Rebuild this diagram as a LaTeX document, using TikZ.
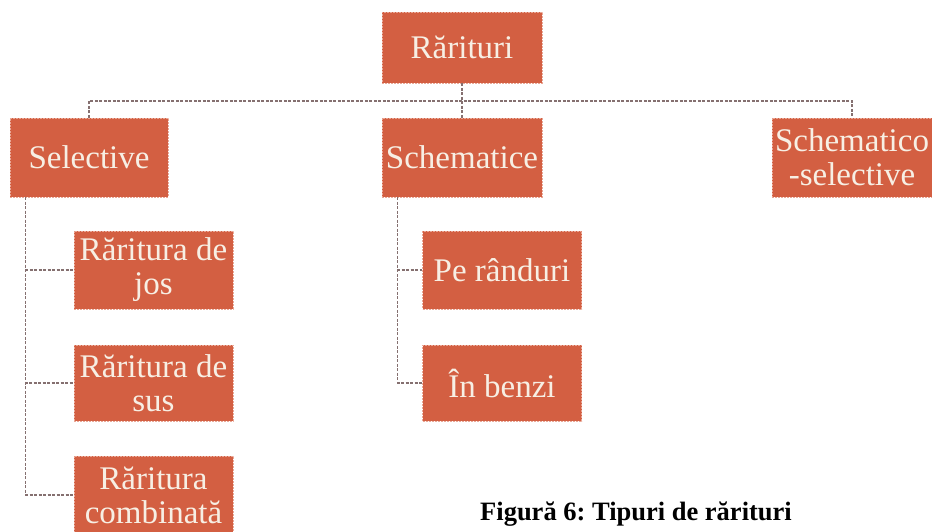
\documentclass[tikz,border=0pt]{standalone}
\usepackage{fontspec}
\setmainfont{Liberation Serif}
\frenchspacing
\definecolor{boxfill}{HTML}{D35F42}
\definecolor{boxedge}{HTML}{E9A897}
\definecolor{boxtext}{HTML}{F7EFE4}
\definecolor{linkcol}{HTML}{857070}
\tikzset{
  box/.style={rectangle, fill=boxfill, draw=boxedge, line width=0.8pt,
    dash pattern=on 2pt off 1pt, text=boxtext, inner sep=0pt, align=center,
    font=\fontsize{33}{34}\selectfont},
  link/.style={draw=linkcol, line width=1.6pt, dash pattern=on 3pt off 1.5pt},
  caption/.style={font=\fontsize{26.5}{30}\selectfont\bfseries, text=black, inner sep=0pt}
}
\begin{document}
\begin{tikzpicture}[x=1pt,y=-1pt]
\useasboundingbox (0,0) rectangle (932,531);
\clip (0,0) rectangle (932,531);
\fill[white] (0,0) rectangle (932,531);
% nodes
\node[box, minimum width=160pt, minimum height=71pt] (root) at (462,47.5) {Rărituri};
\node[box, minimum width=158pt, minimum height=79pt] (sel) at (89,157.5) {Selective};
\node[box, minimum width=160pt, minimum height=79pt] (sch) at (462,157.5) {Schematice};
\node[box, minimum width=160pt, minimum height=79pt] (schsel) at (852,157.5) {Schematico\\-selective};
\node[box, minimum width=159pt, minimum height=78pt] (rj) at (153.5,270) {Răritura de\\jos};
\node[box, minimum width=159pt, minimum height=76pt] (rs) at (153.5,383) {Răritura de\\sus};
\node[box, minimum width=159pt, minimum height=78pt] (rc) at (153.5,495) {Răritura\\combinată};
\node[box, minimum width=159pt, minimum height=78pt] (pr) at (502,270) {Pe rânduri};
\node[box, minimum width=159pt, minimum height=76pt] (ib) at (502,383) {În benzi};
% connectors
\coordinate (hb) at (0,101);
\draw[link] (root.south) -- (sch.north);
\draw[link] (sel.north) -- (sel.north |- hb) -| (schsel.north);
\coordinate (sv) at ([xshift=16pt]sel.south west);
\coordinate (cv) at ([xshift=16pt]sch.south west);
\draw[link] (sv) |- (rj.west);
\draw[link] (sv) |- (rs.west);
\draw[link] (sv) |- (rc.west);
\draw[link] (cv) |- (pr.west);
\draw[link] (cv) |- (ib.west);
% caption
\node[caption, anchor=base west] (cap) at (480,520) {Figură 6: Tipuri de rărituri};
\end{tikzpicture}
\end{document}
